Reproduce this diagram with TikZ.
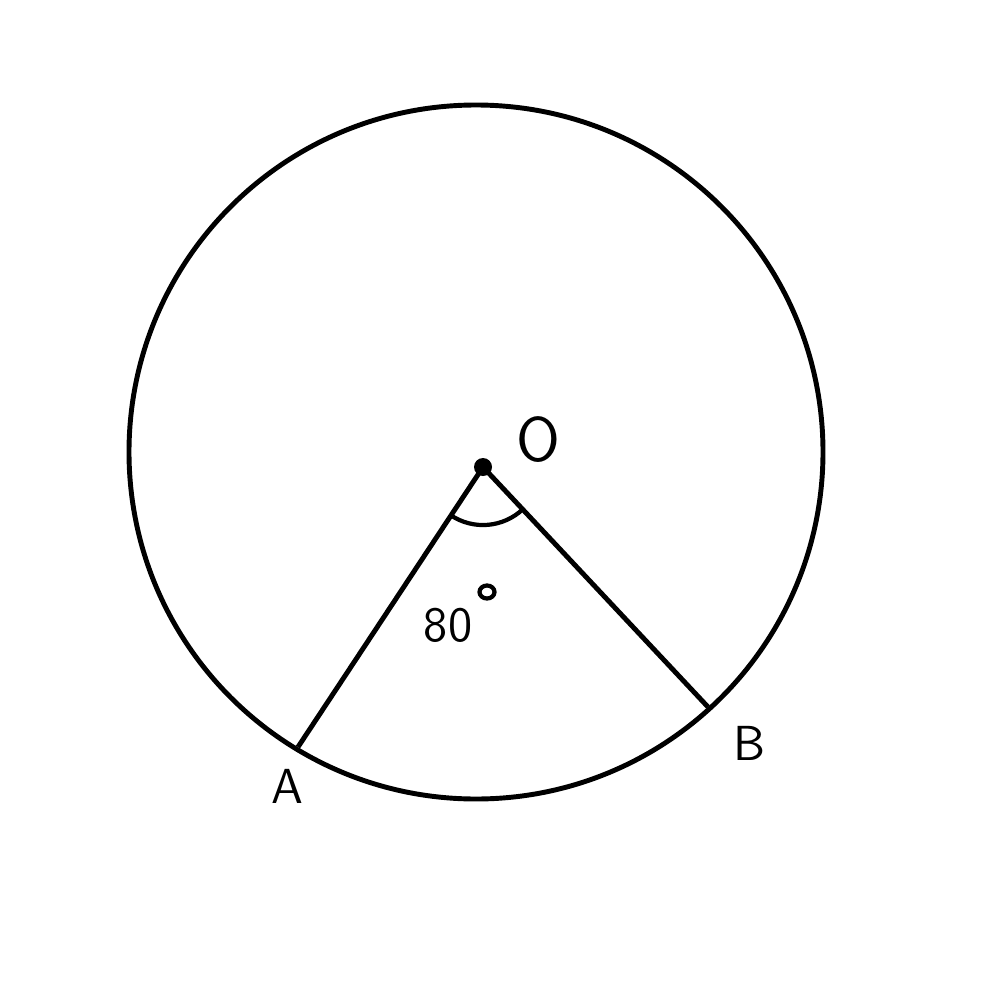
\documentclass[tikz,border=0pt]{standalone}
\usepackage{amssymb}
\usepackage{amsmath}
\usepackage{tikz}

\begin{document}
\begin{tikzpicture}[x=0.01cm, y=-0.01cm, line width=1.4pt,
    lbl/.style={font=\fontsize{14}{16}\sffamily}]
    \useasboundingbox (0, 0) rectangle (1000, 1000);
    \coordinate (C) at (476, 452);
    \coordinate (O) at (483, 467);
    \coordinate (A) at (298, 747);
    \coordinate (B) at (708, 707);

    \draw (C) circle (347); % circle
    \draw (A) -- (O) -- (B); % radii
    \fill (O) circle (9); % centre

    \draw[line width=1.2pt] ([shift={(236.5:0.58cm)}]O) arc (236.5:313.2:0.58cm); % angle

    \node[lbl, font=\fontsize{18}{20}\sffamily] (lO) at (538, 440) {O};
    \node[lbl] (lA) at (287, 786) {A};
    \node[lbl] (lB) at (749, 743) {B};
    \node[lbl] (lang) at (448, 625) {80};
    \draw[line width=1.2pt] (487, 592) ellipse (7.5 and 6.5); % degree
\end{tikzpicture}
\end{document}
